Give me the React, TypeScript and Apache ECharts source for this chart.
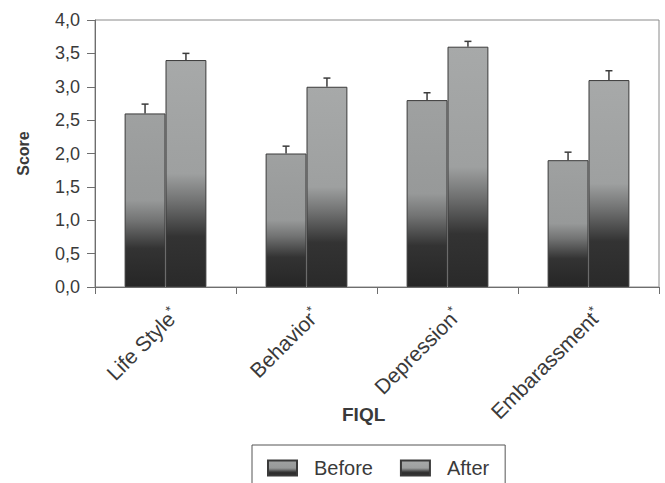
import React, { useEffect, useRef } from "react";
import * as echarts from "echarts";

const categories = ["Life Style", "Behavior", "Depression", "Embarassment"];
const beforeValues = [2.6, 2.0, 2.8, 1.9];
const afterValues = [3.4, 3.0, 3.6, 3.1];
const beforeErr = [0.14, 0.11, 0.11, 0.12];
const afterErr = [0.1, 0.13, 0.08, 0.14];
const yTicks = { min: 0, max: 4, interval: 0.5 };

const FONT = "'Liberation Sans', Arial, Helvetica, sans-serif";
const TEXT = "#3a3a3a";
const AXIS = "#6e6e6e";

const BAR_GAP = 0.42;

function barGradient(top: string, mid: string, bottom: string) {
  return new echarts.graphic.LinearGradient(0, 0, 0, 1, [
    { offset: 0, color: top },
    { offset: 0.5, color: mid },
    { offset: 0.62, color: "#727373" },
    { offset: 0.78, color: "#333333" },
    { offset: 1, color: bottom },
  ]);
}

function errorSeries(name: string, values: number[], errs: number[], side: number) {
  return {
    type: "custom",
    name: name + "-err",
    silent: true,
    z: 5,
    data: values.map((v, i) => [i, v, v + errs[i]]),
    renderItem: (params: any, api: any) => {
      const idx = api.value(0);
      const base = api.coord([idx, api.value(1)]);
      const top = api.coord([idx, api.value(2)]);
      const catW = api.size([1, 0])[0];
      const offset = side * catW * (1 - BAR_GAP) / 4;
      const x = base[0] + offset;
      const cap = 3.5;
      const style = { stroke: "#3c3c3c", lineWidth: 1.5 };
      return {
        type: "group",
        children: [
          { type: "line", shape: { x1: x, y1: base[1], x2: x, y2: top[1] }, style },
          { type: "line", shape: { x1: x - cap, y1: top[1], x2: x + cap, y2: top[1] }, style },
        ],
      };
    },
  };
}

export default function App() {
  const ref = useRef<HTMLDivElement>(null);
  useEffect(() => {
    if (!ref.current) return;
    const chart = echarts.init(ref.current, undefined, { renderer: "svg" });
    const beforeColor = barGradient("#9fa1a1", "#979999", "#262626");
    const afterColor = barGradient("#a7a9a9", "#9ea0a0", "#2a2a2a");
    chart.setOption({
      animation: false,
      backgroundColor: "#ffffff",
      textStyle: { fontFamily: FONT },
      grid: {
        left: 95,
        right: 6,
        top: 20,
        bottom: 196,
        show: true,
        borderColor: "#8a8a8a",
        borderWidth: 1,
        backgroundColor: "transparent",
      },
      legend: {
        data: ["Before", "After"],
        left: 252,
        top: 445,
        padding: [13, 16, 13, 15],
        itemWidth: 29,
        itemHeight: 15,
        itemGap: 27,
        borderColor: "#555555",
        borderWidth: 1,
        icon: "rect",
        textStyle: { fontFamily: FONT, fontSize: 20, color: TEXT, padding: [0, 0, 0, 12] },
      },
      xAxis: {
        type: "category",
        data: categories,
        axisLine: { lineStyle: { color: AXIS, width: 1 } },
        axisTick: { show: true, length: 7, lineStyle: { color: AXIS } },
        axisLabel: {
          rotate: 45,
          margin: 34,
          padding: [0, -13, 0, 0],
          color: TEXT,
          fontFamily: FONT,
          fontSize: 21,
          formatter: (v: string) => v + "{sup|*}",
          rich: {
            sup: { fontSize: 13, color: TEXT, fontFamily: FONT, padding: [0, 0, 10, 0] },
          },
        },
        splitLine: { show: false },
      },
      yAxis: {
        type: "value",
        min: yTicks.min,
        max: yTicks.max,
        interval: yTicks.interval,
        axisLine: { show: true, lineStyle: { color: AXIS, width: 1 } },
        axisTick: { show: true, length: 8, lineStyle: { color: AXIS } },
        axisLabel: {
          color: TEXT,
          fontFamily: FONT,
          fontSize: 18,
          margin: 15,
          formatter: (v: number) => v.toFixed(1).replace(".", ","),
        },
        splitLine: { show: false },
        name: "Score",
        nameLocation: "middle",
        nameGap: 64,
        nameRotate: 90,
        nameTextStyle: { fontFamily: FONT, fontSize: 16, fontWeight: "bold", color: TEXT },
      },
      graphic: [
        {
          type: "text",
          left: 342,
          top: 405,
          style: { text: "FIQL", font: "bold 19px " + FONT, fill: TEXT },
        },
      ],
      series: [
        {
          name: "Before",
          type: "bar",
          data: beforeValues,
          barGap: "0%",
          barCategoryGap: BAR_GAP * 100 + "%",
          itemStyle: { color: beforeColor, borderColor: "#3a3a3a", borderWidth: 1 },
        },
        {
          name: "After",
          type: "bar",
          data: afterValues,
          barGap: "0%",
          barCategoryGap: BAR_GAP * 100 + "%",
          itemStyle: { color: afterColor, borderColor: "#3a3a3a", borderWidth: 1 },
        },
        errorSeries("Before", beforeValues, beforeErr, -1),
        errorSeries("After", afterValues, afterErr, 1),
      ],
    });
    return () => chart.dispose();
  }, []);
  return <div ref={ref} style={{ width: 665, height: 483, position: "absolute", left: 0, top: 0 }} />;
}
